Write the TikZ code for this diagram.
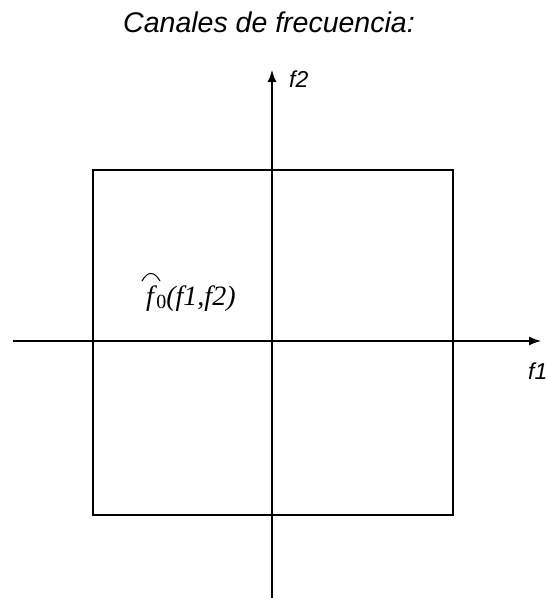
\documentclass[tikz,border=0pt]{standalone}
\usepackage{fontspec}
\setmainfont{Liberation Sans}
\newfontfamily\serifface{Liberation Serif}
\usetikzlibrary{arrows.meta}
\begin{document}
\begin{tikzpicture}[x=1pt,y=-1pt,
  axis/.style={line width=1.3pt,-{Latex[length=12pt,width=9pt]}},
  frame/.style={draw,line width=1.2pt},
  lbl/.style={font=\fontsize{23}{27}\selectfont\itshape,inner sep=0pt},
  ser/.style={inner sep=0pt,font=\fontsize{28}{32}\selectfont\serifface}]
\useasboundingbox (0,0) rectangle (548,598);
\node[frame,minimum width=360pt,minimum height=345pt,inner sep=0pt] (box) at (273,342.5) {};
\coordinate (xl) at (13,341);
\coordinate (xr) at (541,341);
\coordinate (yb) at (272,598);
\coordinate (yt) at (272,70);
\draw[axis] (xl) -- (xr);
\draw[axis] (yb) -- (yt);
\node[anchor=base,inner sep=0pt,font=\fontsize{28.5}{32}\selectfont\itshape] (title) at (269,32) {Canales de frecuencia:};
\node[lbl,anchor=base west] (f2) at (289,87) {f2};
\node[lbl,anchor=base west] (f1) at (528,379) {f1};
\node[ser,anchor=base west] (fhat) at (146,305) {\itshape f};
\node[ser,anchor=base west] (f0) at ([xshift=2pt]fhat.base east) {\raisebox{-3pt}{\fontsize{20}{24}\selectfont 0}{\itshape(f1,f2)}};
\coordinate (hl) at (142,281);
\coordinate (hr) at (160,281);
\coordinate (hp) at (151,273.5);
\draw[line width=1pt,line cap=round] (hl) .. controls (145,276) and (147.5,273.5) .. (hp) .. controls (154.5,273.5) and (157,276) .. (hr);
\end{tikzpicture}
\end{document}
